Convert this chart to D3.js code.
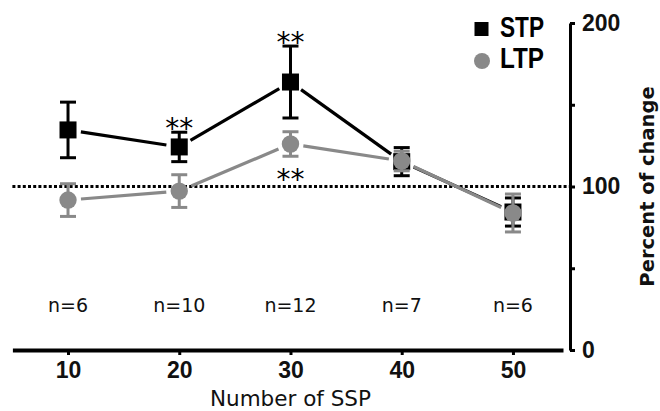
<!DOCTYPE html>
<html>
<head>
<meta charset="utf-8">
<script src="https://cdn.jsdelivr.net/npm/d3@7"></script>
<style>
  html, body { margin: 0; padding: 0; background: #fff; }
  svg { display: block; }
</style>
</head>
<body>
<svg id="chart" width="660" height="411"></svg>
<script>
// ---- data ----
const ssp = [10, 20, 30, 40, 50];
const stpMean = [134.6, 124.2, 163.9, 115.2, 84.4];
const stpErr  = [17, 9, 22, 8.6, 8.6];
const ltpMean = [91.7, 97.2, 126.0, 115.6, 83.8];
const ltpErr  = [10, 10, 7.5, 6, 11.6];
const nLabels = ["n=6", "n=10", "n=12", "n=7", "n=6"];
const yTicks = [0, 50, 100, 150, 200];
const yTickLabels = [0, 100, 200];
const baseline = 100;
// significance marks: x value, series, placement
const sigX = [20, 30, 30];
const sigSeries = ["STP", "STP", "LTP"];
const sigPos = ["above", "above", "below"];
const seriesNames = ["STP", "LTP"];

// ---- setup ----
const svg = d3.select("#chart");
const black = "#000";
const grey = "#898989";

const x = d3.scaleLinear().domain([5, 54.5]).range([12.4, 563]);
const y = d3.scaleLinear().domain([0, 200]).range([350, 23]);
const axisX = 570;

const series = [
  { name: "STP", mean: stpMean, err: stpErr, color: black, shape: "square" },
  { name: "LTP", mean: ltpMean, err: ltpErr, color: grey, shape: "circle" }
];

// dotted reference line at 100
svg.append("line")
  .attr("x1", x(5)).attr("x2", axisX)
  .attr("y1", y(baseline)).attr("y2", y(baseline))
  .attr("stroke", black).attr("stroke-width", 3)
  .attr("stroke-dasharray", "3,2.2");

// connecting lines (trimmed near markers)
const trim = 13;
series.forEach(s => {
  for (let i = 0; i < ssp.length - 1; i++) {
    const x1 = x(ssp[i]), y1 = y(s.mean[i]);
    const x2 = x(ssp[i + 1]), y2 = y(s.mean[i + 1]);
    const dx = x2 - x1, dy = y2 - y1, L = Math.hypot(dx, dy);
    const ux = dx / L, uy = dy / L;
    svg.append("line")
      .attr("x1", x1 + ux * trim).attr("y1", y1 + uy * trim)
      .attr("x2", x2 - ux * trim).attr("y2", y2 - uy * trim)
      .attr("stroke", s.color).attr("stroke-width", 3.2);
  }
});

// error bars + markers
const capW = 16;
series.forEach(s => {
  const g = svg.append("g");
  ssp.forEach((v, i) => {
    const cx = x(v), top = y(s.mean[i] + s.err[i]), bot = y(s.mean[i] - s.err[i]);
    g.append("line").attr("x1", cx).attr("x2", cx).attr("y1", top).attr("y2", bot)
      .attr("stroke", s.color).attr("stroke-width", 3);
    [top, bot].forEach(yy => {
      g.append("line").attr("x1", cx - capW / 2).attr("x2", cx + capW / 2)
        .attr("y1", yy).attr("y2", yy)
        .attr("stroke", s.color).attr("stroke-width", 3);
    });
  });
  ssp.forEach((v, i) => {
    const cx = x(v), cy = y(s.mean[i]);
    if (s.shape === "square") {
      g.append("rect").attr("x", cx - 8.5).attr("y", cy - 8.5)
        .attr("width", 17).attr("height", 17).attr("fill", s.color);
    } else {
      g.append("circle").attr("cx", cx).attr("cy", cy).attr("r", 8.7)
        .attr("fill", s.color);
    }
  });
});

// significance asterisks
const starFs = 28;
sigX.forEach((v, k) => {
  const s = series.find(d => d.name === sigSeries[k]);
  const i = ssp.indexOf(v);
  let cy;
  if (sigPos[k] === "above") cy = y(s.mean[i] + s.err[i]) - 10;
  else cy = y(s.mean[i] - s.err[i]) + 17;
  svg.append("text")
    .attr("x", x(v)).attr("y", cy + 0.56 * starFs)
    .attr("text-anchor", "middle")
    .attr("font-family", "DejaVu Sans").attr("font-size", starFs)
    .attr("fill", black)
    .text("**");
});

// n labels
svg.append("g").selectAll("text").data(nLabels).join("text")
  .attr("x", (d, i) => x(ssp[i]))
  .attr("y", 312)
  .attr("text-anchor", "middle")
  .attr("font-family", "DejaVu Sans").attr("font-size", 19)
  .attr("fill", "#111")
  .text(d => d);

// x axis
const xAxis = svg.append("g").attr("transform", `translate(0,${y(0)})`)
  .call(d3.axisBottom(x).tickValues(ssp).tickSize(5).tickSizeOuter(0).tickPadding(7));
xAxis.select(".domain").attr("stroke", black).attr("stroke-width", 4);
xAxis.selectAll(".tick line").attr("stroke", black).attr("stroke-width", 3);
xAxis.selectAll(".tick text")
  .attr("font-family", "Liberation Sans").attr("font-weight", "bold")
  .attr("font-size", 23).attr("fill", "#111");

// y axis (right)
const yAxis = svg.append("g").attr("transform", `translate(${axisX},0)`)
  .call(d3.axisRight(y).tickValues(yTicks).tickSize(5).tickSizeOuter(0).tickPadding(7)
    .tickFormat(d => yTickLabels.includes(d) ? d : ""));
yAxis.select(".domain").attr("stroke", black).attr("stroke-width", 3);
yAxis.selectAll(".tick line").attr("stroke", black).attr("stroke-width", 3);
yAxis.selectAll(".tick text")
  .attr("font-family", "Liberation Sans").attr("font-weight", "bold")
  .attr("font-size", 23).attr("fill", "#111");

// axis titles
svg.append("text")
  .attr("x", x(30)).attr("y", 406)
  .attr("text-anchor", "middle")
  .attr("font-family", "DejaVu Sans").attr("font-size", 21.5)
  .attr("fill", "#111")
  .text("Number of SSP");

svg.append("text")
  .attr("transform", `translate(654,${y(baseline)}) rotate(-90)`)
  .attr("text-anchor", "middle")
  .attr("font-family", "DejaVu Sans").attr("font-weight", "bold")
  .attr("font-size", 19.5)
  .attr("fill", "#111")
  .text("Percent of change");

// legend
const leg = svg.append("g");
seriesNames.forEach((name, i) => {
  const s = series.find(d => d.name === name);
  const cy = 29 + i * 32;
  if (s.shape === "square") {
    leg.append("rect").attr("x", 474.5).attr("y", cy - 7).attr("width", 14).attr("height", 14)
      .attr("fill", s.color);
  } else {
    leg.append("circle").attr("cx", 482).attr("cy", cy).attr("r", 8).attr("fill", s.color);
  }
  leg.append("text")
    .attr("x", 500).attr("y", cy + 8 + (i ? -1 : 0))
    .attr("font-family", "Liberation Sans").attr("font-weight", "bold")
    .attr("font-size", 30)
    .attr("textLength", 44).attr("lengthAdjust", "spacingAndGlyphs")
    .attr("fill", black)
    .text(name);
});
</script>
</body>
</html>
